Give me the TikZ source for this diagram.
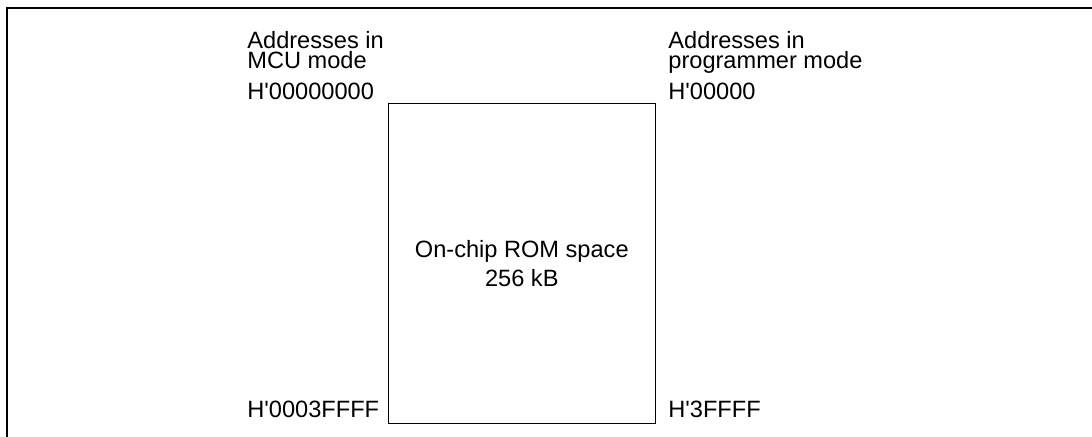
\documentclass[tikz,border=0pt]{standalone}
\usepackage{fontspec}
\setmainfont{Liberation Sans}
\usepackage{tikz}
\usetikzlibrary{positioning}
\newcommand{\hq}{H\textquotesingle}
\tikzset{
  addr/.style={inner sep=0pt, align=left, font=\fontsize{11.8}{10}\selectfont},
  rombox/.style={rectangle, draw=black, line width=0.5pt, inner sep=0pt, align=center,
                 minimum width=133.8pt, minimum height=159.8pt, font=\fontsize{11.8}{14.3}\selectfont},
  frameline/.style={draw=black, line width=1pt}
}
\begin{document}
\begin{tikzpicture}[x=0.5pt, y=-0.5pt]
 \useasboundingbox (0,0) rectangle (1092,437);
 \draw[frameline] (7,437) -- (7,8) -- (1092,8);

 \node[rombox] (rom) at (521.8,263.8) {On-chip ROM space\\256 kB};

 \node[addr, anchor=base west] (mcuhead) at (247,68.3) {Addresses in\\MCU mode};
 \node[addr, anchor=base west] (proghead) at (668,68.3) {Addresses in\\programmer mode};
 \node[addr, anchor=base west] (mcutop) at (247,99.3) {\hq00000000};
 \node[addr, anchor=base west] (mcubot) at (247,417.3) {\hq0003FFFF};
 \node[addr, anchor=base west] (progtop) at (668,99.3) {\hq00000};
 \node[addr, anchor=base west] (progbot) at (668,417.3) {\hq3FFFF};
\end{tikzpicture}
\end{document}
